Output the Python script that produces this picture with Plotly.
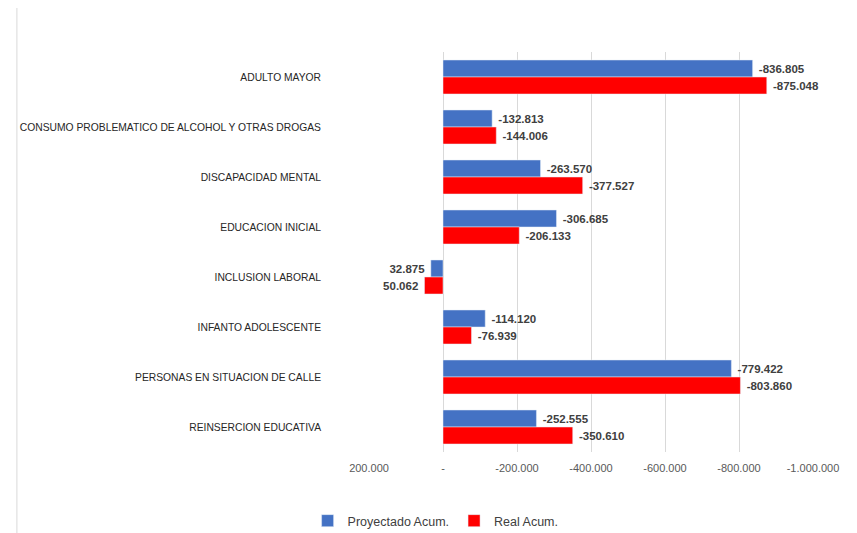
import plotly.graph_objects as go

categories = [
    "ADULTO MAYOR",
    "CONSUMO PROBLEMATICO DE ALCOHOL Y OTRAS DROGAS",
    "DISCAPACIDAD MENTAL",
    "EDUCACION INICIAL",
    "INCLUSION LABORAL",
    "INFANTO ADOLESCENTE",
    "PERSONAS EN SITUACION DE CALLE",
    "REINSERCION EDUCATIVA",
]
proyectado = [-836805, -132813, -263570, -306685, 32875, -114120, -779422, -252555]
real = [-875048, -144006, -377527, -206133, 50062, -76939, -803860, -350610]

tick_vals = [200000, 0, -200000, -400000, -600000, -800000, -1000000]
tick_text = ["200.000", "-", "-200.000", "-400.000", "-600.000", "-800.000", "-1.000.000"]


def fmt(v):
    s = f"{v:,}".replace(",", ".")
    return " " + s if v < 0 else s + " "


label_font = dict(family="Liberation Sans", size=11.5, color="#404040", weight="bold")

fig = go.Figure()
fig.add_trace(go.Bar(
    y=categories, x=proyectado, orientation="h", name="Proyectado Acum.",
    marker=dict(color="#4472C4"),
    text=[fmt(v) for v in proyectado], textposition="outside",
    textfont=label_font, cliponaxis=False,
))
fig.add_trace(go.Bar(
    y=categories, x=real, orientation="h", name="Real Acum.",
    marker=dict(color="#FF0000"),
    text=[fmt(v) for v in real], textposition="outside",
    textfont=label_font, cliponaxis=False,
))

fig.update_layout(
    width=857, height=533,
    paper_bgcolor="white", plot_bgcolor="white",
    barmode="group", bargap=0.32, bargroupgap=0,
    margin=dict(l=361, r=52, t=44, b=89, autoexpand=False),
    font=dict(family="Liberation Sans", size=10, color="#404040"),
    legend=dict(orientation="h", x=0.15, xanchor="center", y=-0.1725, yanchor="middle",
                font=dict(size=12.5, color="#404040"), traceorder="normal",
                itemwidth=30),
    xaxis=dict(range=[200000, -1000000], tickvals=tick_vals, ticktext=tick_text,
               showgrid=True, gridcolor="#D9D9D9", gridwidth=1,
               zeroline=True, zerolinecolor="#D9D9D9", zerolinewidth=1,
               showline=False, ticks="", ticklabelstandoff=8, automargin=False,
               tickfont=dict(size=11, color="#595959")),
    yaxis=dict(autorange="reversed", showgrid=False, ticks="", ticklabelstandoff=47,
               automargin=False, tickfont=dict(size=10.3, color="#262626")),
    uniformtext=dict(minsize=8, mode="show"),
    shapes=[
        dict(type="line", xref="paper", yref="paper", x0=-0.793, x1=-0.793, y0=-0.25, y1=1.14,
             line=dict(color="#D9D9D9", width=1)),
        dict(type="line", xref="paper", yref="paper", x0=1.088, x1=1.088, y0=-0.25, y1=1.14,
             line=dict(color="#D9D9D9", width=1)),
    ],
)

fig.write_html("out.html")
